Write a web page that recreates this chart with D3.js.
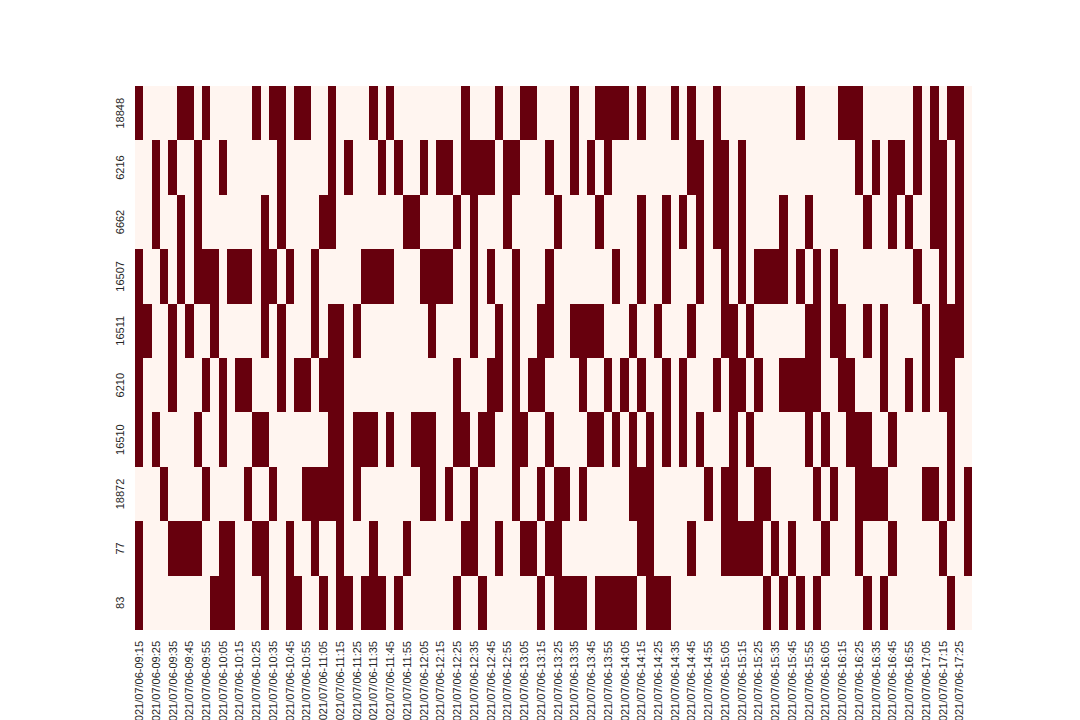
<!DOCTYPE html>
<html>
<head>
<meta charset="utf-8">
<script src="https://cdn.jsdelivr.net/npm/d3@7"></script>
<style>
body { margin: 0; background: #fff; }
.axis text { font-family: "Liberation Sans", Arial, sans-serif; font-size: 11px; fill: #262626; }
</style>
</head>
<body>
<script>
const width = 1080;
const height = 720;
const plotLeft = 135, plotRight = 972, plotTop = 86, plotBottom = 630;

//-----------------------------DATA------------------------------//
const rowIds = ["18848", "6216", "6662", "16507", "16511", "6210", "16510", "18872", "77", "83"];
const dayLabel = "2021/07/06";
const firstSlot = "09:15";
const lastSlot = "17:30";

// 5 minute slots (column index) where each id is on
const on18848 = [0,5,6,8,14,16,17,19,20,23,28,30,39,43,46,47,52,55,56,57,58,60,64,66,69,79,84,85,86,93,95,97,98];
const on6216 = [2,4,7,10,17,23,25,29,31,34,36,37,39,40,41,42,44,45,49,52,54,56,66,67,69,70,72,86,88,90,91,93,95,96,98];
const on6662 = [2,5,7,15,17,22,23,32,33,38,40,44,50,55,60,63,65,67,69,70,72,77,80,87,90,92,95,96,98];
const on16507 = [0,3,5,7,8,9,11,12,13,15,16,18,21,27,28,29,30,34,35,36,37,40,42,45,49,57,60,63,67,70,72,74,75,76,77,79,81,83,93,96,98];
const on16511 = [0,1,4,6,9,15,17,21,23,24,26,35,40,43,45,48,49,52,53,54,55,59,62,66,70,71,73,80,81,83,84,87,89,94,96,97,98];
const on6210 = [0,4,8,10,12,13,17,19,20,22,23,24,38,42,43,45,47,48,53,56,58,60,63,65,69,71,72,74,77,78,79,80,81,84,85,89,92,94,96,97];
const on16510 = [0,2,7,10,14,15,23,24,26,27,28,30,33,34,35,38,39,41,42,45,46,49,54,55,57,59,61,63,65,67,71,73,80,82,85,86,87,90,97];
const on18872 = [3,8,13,16,20,21,22,23,24,26,34,35,37,40,45,48,50,51,53,59,60,61,68,70,71,74,75,81,83,86,87,88,89,94,95,97,99];
const on77 = [0,4,5,6,7,10,11,14,15,18,21,24,28,32,39,40,43,46,47,49,50,60,61,66,70,71,72,73,74,76,78,82,86,90,96,99];
const on83 = [0,9,10,11,15,18,19,22,24,25,27,28,29,31,38,41,48,50,51,52,53,55,56,57,58,59,61,62,63,75,77,79,81,87,89,97];

const onLists = [on18848, on6216, on6662, on16507, on16511, on6210, on16510, on18872, on77, on83];

//-----------------------------SLOTS------------------------------//
const parseT = d3.timeParse("%H:%M");
const fmtT = d3.timeFormat("%H:%M");
const slots = d3.timeMinute.every(5).range(parseT(firstSlot), new Date(+parseT(lastSlot) + 1));
const slotKeys = slots.map(fmtT);

const cells = [];
rowIds.forEach(function(id, r) {
	const s = new Set(onLists[r]);
	slotKeys.forEach(function(k, c) {
		cells.push({ id: id, slot: k, value: s.has(c) ? 1 : 0 });
	});
});

//----------------------------SCALES-----------------------------//
const xScale = d3.scaleBand().domain(slotKeys).range([plotLeft, plotRight]);
const yScale = d3.scaleBand().domain(rowIds).range([plotTop, plotBottom]);
const color = d3.scaleSequential(d3.interpolateReds).domain([0, 1]);

const svg = d3.select("body").append("svg")
	.attr("width", width).attr("height", height);

//----------------------------CELLS------------------------------//
svg.append("g").selectAll("rect").data(cells).enter().append("rect")
	.attr("x", function(d) { return xScale(d.slot); })
	.attr("y", function(d) { return yScale(d.id); })
	.attr("width", xScale.bandwidth())
	.attr("height", yScale.bandwidth())
	.attr("shape-rendering", "crispEdges")
	.attr("fill", function(d) { return color(d.value); });

//-----------------------------AXES------------------------------//
const xaxis = d3.axisBottom(xScale)
	.tickValues(slotKeys.filter(function(d, i) { return i % 2 === 0; }))
	.tickSize(0)
	.tickFormat(function(d) { return dayLabel + "-" + d; });

const gx = svg.append("g").attr("class", "axis")
	.attr("transform", "translate(0," + plotBottom + ")").call(xaxis);
gx.select(".domain").remove();
gx.selectAll("text")
	.attr("transform", "rotate(-90)")
	.attr("text-anchor", "end")
	.attr("x", -11).attr("y", 0).attr("dy", "0.35em");

const yaxis = d3.axisLeft(yScale).tickSize(0);
const gy = svg.append("g").attr("class", "axis")
	.attr("transform", "translate(" + plotLeft + ",0)").call(yaxis);
gy.select(".domain").remove();
gy.selectAll("text")
	.attr("transform", "rotate(-90)")
	.attr("text-anchor", "middle")
	.attr("x", 0).attr("y", -11).attr("dy", 0);
</script>
</body>
</html>
